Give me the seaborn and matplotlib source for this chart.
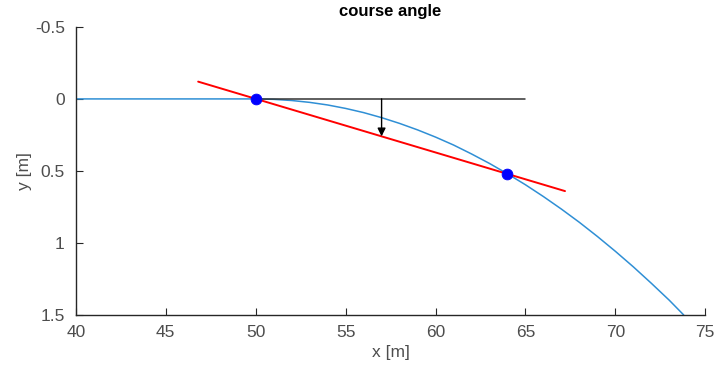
import matplotlib
matplotlib.use("Agg")
import matplotlib.pyplot as plt
import seaborn as sns

# path values
path_x = [40, 42, 44, 46, 48, 50, 51, 52, 53, 54, 55, 56, 57, 58, 59, 60, 61, 62, 63,
          64, 65, 66, 67, 68, 69, 70, 71, 72, 73, 73.8]
path_y = [0, 0, 0, 0, 0, 0, 0.003, 0.011, 0.024, 0.042, 0.066, 0.095, 0.13, 0.17, 0.215,
          0.265, 0.32, 0.382, 0.448, 0.52, 0.596, 0.678, 0.765, 0.857, 0.955, 1.058,
          1.166, 1.28, 1.398, 1.5]

# chord through the two points
chord_x = [46.8, 67.2]
chord_y = [-0.12, 0.64]

# reference heading
ref_x = [50, 65]
ref_y = [0, 0]

points_x = [50, 64]
points_y = [0, 0.52]

arrow_x = 57
arrow_y = [0, 0.26]

sns.set_style("ticks")
plt.rcParams["font.family"] = ["Liberation Sans", "DejaVu Sans"]

fig = plt.figure(figsize=(7.16, 3.79), dpi=100)
ax = fig.add_axes([0.106, 0.169, 0.879, 0.76])

sns.lineplot(x=path_x, y=path_y, sort=False, color="#2f8fd5", linewidth=1.1, ax=ax)
sns.lineplot(x=ref_x, y=ref_y, sort=False, color="#333333", linewidth=1.1, ax=ax)
sns.lineplot(x=chord_x, y=chord_y, sort=False, color="red", linewidth=1.4, ax=ax)
sns.scatterplot(x=points_x, y=points_y, color="blue", s=60, edgecolor="blue", zorder=5, ax=ax)
ax.annotate("", xy=(arrow_x, arrow_y[1]), xytext=(arrow_x, arrow_y[0]),
            arrowprops=dict(arrowstyle="-|>", color="black", lw=1.0, mutation_scale=12,
                            shrinkA=0, shrinkB=0))

ax.set_xlim(40, 75)
ax.set_ylim(1.5, -0.5)
ax.set_xticks([40, 45, 50, 55, 60, 65, 70, 75])
ax.set_yticks([-0.5, 0, 0.5, 1, 1.5])
ax.set_yticklabels(["-0.5", "0", "0.5", "1", "1.5"])

sns.despine(ax=ax)
for s in ["left", "bottom"]:
    ax.spines[s].set_color("#262626")
    ax.spines[s].set_linewidth(1.0)
ax.tick_params(direction="in", length=5, width=0.8, colors="#262626",
               labelcolor="#4d4d4d", labelsize=12.5)
ax.tick_params(axis="x", pad=7)
ax.tick_params(axis="y", pad=8)

ax.set_xlabel("x [m]", fontsize=12.5, color="#4d4d4d", labelpad=4)
ax.set_ylabel("y [m]", fontsize=12.5, color="#4d4d4d", labelpad=2)
ax.set_title("course angle", fontsize=12, fontweight="bold", color="black", pad=8)

fig.savefig("out.png", dpi=100)
